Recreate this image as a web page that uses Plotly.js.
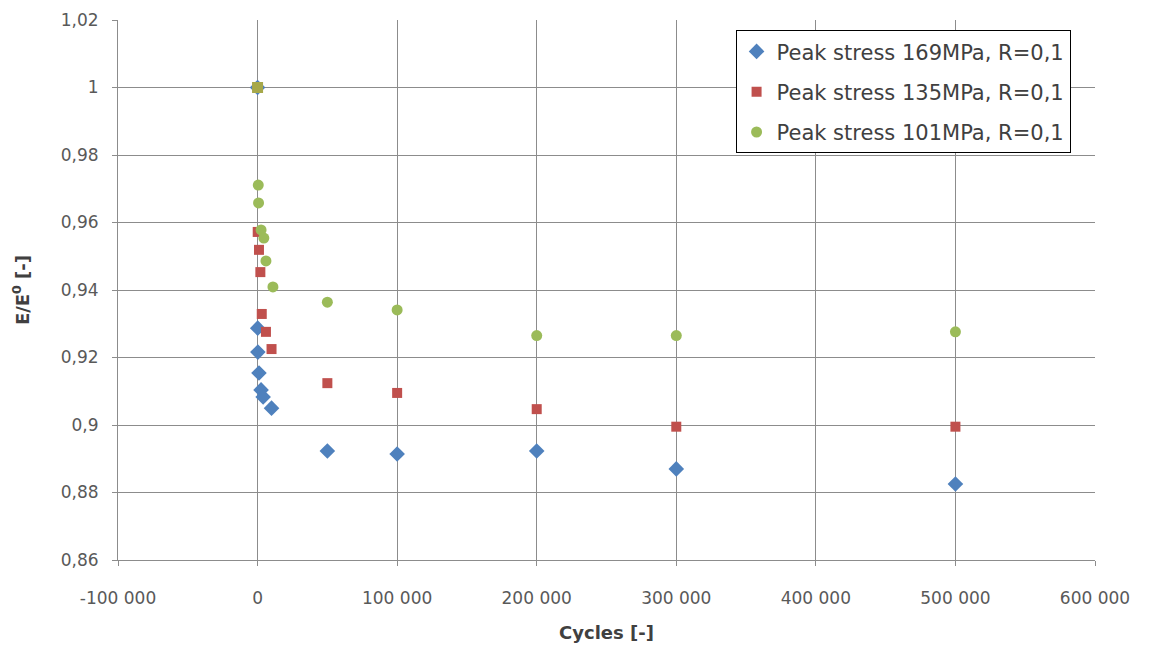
<!DOCTYPE html>
<html>
<head>
<meta charset="utf-8">
<script src="https://cdn.plot.ly/plotly-3.0.1.min.js"></script>
<style>html,body{margin:0;padding:0;background:#fff;}#chart{width:1153px;height:650px;}</style>
</head>
<body>
<div id="chart"></div>
<script>
const seriesNames = ["Peak stress 169MPa, R=0,1", "Peak stress 135MPa, R=0,1", "Peak stress 101MPa, R=0,1"];
const cycles169 = [0, 100, 200, 1000, 2500, 4000, 10000, 50000, 100000, 200000, 300000, 500000];
const ratio169  = [1.0, 0.9287, 0.9216, 0.9154, 0.9104, 0.9083, 0.905, 0.8923, 0.8914, 0.8923, 0.887, 0.8825];
const cycles135 = [0, 100, 1000, 2000, 3000, 6000, 10000, 50000, 100000, 200000, 300000, 500000];
const ratio135  = [1.0, 0.9572, 0.9519, 0.9453, 0.9329, 0.9276, 0.9225, 0.9124, 0.9095, 0.9047, 0.8995, 0.8995];
const cycles101 = [500, 700, 2500, 4500, 6000, 11000, 50000, 100000, 200000, 300000, 500000, 0];
const ratio101  = [0.9711, 0.9658, 0.9578, 0.9554, 0.9486, 0.9409, 0.9364, 0.9341, 0.9265, 0.9265, 0.9276, 1.0];
const xTickVals = [-100000, 0, 100000, 200000, 300000, 400000, 500000, 600000];
const xTickText = ["-100 000", "0", "100 000", "200 000", "300 000", "400 000", "500 000", "600 000"];
const yTickVals = [0.86, 0.88, 0.9, 0.92, 0.94, 0.96, 0.98, 1.0, 1.02];
const yTickText = ["0,86", "0,88", "0,9", "0,92", "0,94", "0,96", "0,98", "1", "1,02"];

const font = "DejaVu Sans, sans-serif";
const last = cycles101.length - 1;
const traces = [
  {x: cycles169, y: ratio169, name: seriesNames[0], type: "scatter", mode: "markers", legendgroup: "a",
   marker: {symbol: "diamond", size: 12, color: "#4f81bd"}},
  {x: cycles135, y: ratio135, name: seriesNames[1], type: "scatter", mode: "markers", legendgroup: "b",
   marker: {symbol: "square", size: 10, color: "#c0504d"}},
  {x: cycles101, y: ratio101, name: seriesNames[2], type: "scatter", mode: "markers", legendgroup: "c",
   marker: {symbol: cycles101.map((c, i) => i === last ? "square" : "circle"), size: 11,
            color: cycles101.map((c, i) => i === last ? "#a6a84a" : "#9bbb59")}}
];
const layout = {
  width: 1153, height: 650,
  margin: {l: 118, r: 58, t: 20, b: 90},
  paper_bgcolor: "#fff", plot_bgcolor: "#fff",
  showlegend: true,
  legend: {x: 0.975, xanchor: "right", y: 0.981, yanchor: "top", bgcolor: "#fff",
           bordercolor: "#000", borderwidth: 1, font: {family: font, size: 21, color: "#404040"},
           tracegroupgap: 10, itemwidth: 30},
  xaxis: {range: [-100000, 600000], tickvals: xTickVals, ticktext: xTickText,
          showgrid: true, gridcolor: "#8c8c8c", gridwidth: 1, zeroline: false,
          showline: true, linecolor: "#8c8c8c", linewidth: 1, ticks: "outside", ticklen: 5, tickcolor: "#8c8c8c",
          ticklabelstandoff: 18,
          tickfont: {family: font, size: 17, color: "#595959"},
          title: {text: "<b>Cycles [-]</b>", font: {family: font, size: 18, color: "#404040"}, standoff: 18}},
  yaxis: {range: [0.86, 1.02], tickvals: yTickVals, ticktext: yTickText,
          showgrid: true, gridcolor: "#8c8c8c", gridwidth: 1, zeroline: false,
          showline: true, linecolor: "#8c8c8c", linewidth: 1, ticks: "outside", ticklen: 5, tickcolor: "#8c8c8c",
          ticklabelstandoff: 10,
          tickfont: {family: font, size: 17, color: "#595959"},
          title: {text: "<b>E/E<sup>0</sup> [-]</b>", font: {family: font, size: 18, color: "#404040"}, standoff: 26}}
};
Plotly.newPlot("chart", traces, layout, {displayModeBar: false, staticPlot: true});
</script>
</body>
</html>
